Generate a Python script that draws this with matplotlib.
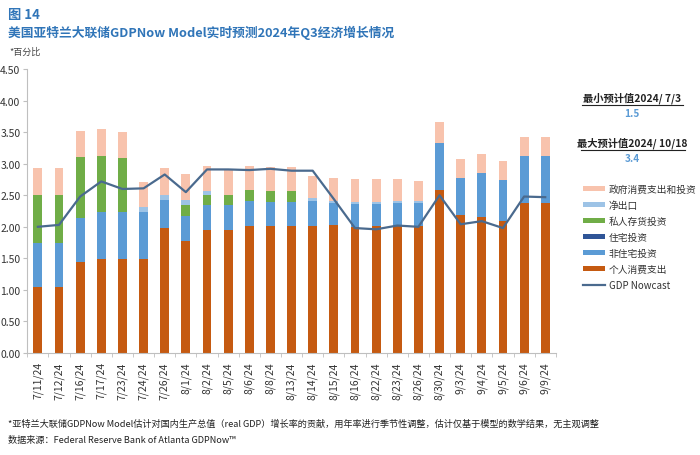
import matplotlib
matplotlib.use("Agg")
import matplotlib.pyplot as plt
import numpy as np
from matplotlib.lines import Line2D

plt.rcParams['font.family'] = ['Noto Sans CJK SC', 'DejaVu Sans']

dates = ["7/11/24", "7/12/24", "7/16/24", "7/17/24", "7/23/24", "7/24/24", "7/26/24",
         "8/1/24", "8/2/24", "8/5/24", "8/6/24", "8/8/24", "8/13/24", "8/14/24", "8/15/24",
         "8/16/24", "8/22/24", "8/23/24", "8/26/24", "8/30/24", "9/3/24", "9/4/24",
         "9/5/24", "9/6/24", "9/9/24"]

personal = [1.05, 1.05, 1.44, 1.49, 1.49, 1.49, 1.98, 1.77, 1.95, 1.95, 2.01, 2.02, 2.01,
            2.02, 2.03, 1.99, 2.02, 2.02, 2.01, 2.59, 2.19, 2.16, 2.09, 2.38, 2.37]
nonres = [0.70, 0.70, 0.70, 0.74, 0.74, 0.74, 0.45, 0.40, 0.40, 0.40, 0.40, 0.38, 0.39,
          0.39, 0.34, 0.37, 0.34, 0.36, 0.37, 0.74, 0.58, 0.70, 0.66, 0.75, 0.76]
residential = [0.0] * 25
inventory = [0.76, 0.75, 0.97, 0.90, 0.86, 0.0, 0.0, 0.18, 0.16, 0.16, 0.18, 0.17, 0.17,
             0.0, 0.0, 0.0, 0.0, 0.0, 0.0, 0.0, 0.0, 0.0, 0.0, 0.0, 0.0]
net_exports = [0.0, 0.0, 0.0, 0.0, 0.0, 0.08, 0.07, 0.07, 0.06, 0.0, 0.0, 0.0, 0.0,
               0.05, 0.04, 0.04, 0.04, 0.03, 0.03, 0.0, 0.0, 0.0, 0.0, 0.0, 0.0]
government = [0.42, 0.43, 0.41, 0.42, 0.42, 0.40, 0.43, 0.41, 0.40, 0.39, 0.37, 0.38, 0.38,
              0.35, 0.36, 0.36, 0.36, 0.35, 0.32, 0.34, 0.30, 0.29, 0.29, 0.29, 0.29]
nowcast = [2.00, 2.03, 2.48, 2.72, 2.60, 2.61, 2.83, 2.55, 2.91, 2.91, 2.90, 2.92, 2.89,
           2.89, 2.44, 1.98, 1.96, 2.02, 2.00, 2.50, 2.04, 2.09, 1.98, 2.48, 2.47]

series = [
    ("个人消费支出", personal, "#C55A11"),
    ("非住宅投资", nonres, "#5B9BD5"),
    ("住宅投资", residential, "#2F5597"),
    ("私人存货投资", inventory, "#70AD47"),
    ("净出口", net_exports, "#9DC3E6"),
    ("政府消费支出和投资", government, "#F8C3AD"),
]

fig = plt.figure(figsize=(7.0, 4.56), dpi=100)
ax = fig.add_axes([0.039, 0.224, 0.755, 0.622])

x = np.arange(len(dates))
bottom = np.zeros(len(dates))
handles = {}
for name, vals, col in series:
    v = np.array(vals)
    b = ax.bar(x, v, 0.42, bottom=bottom, color=col, label=name, linewidth=0)
    handles[name] = b
    bottom += v
ln, = ax.plot(x, nowcast, color="#4A6A8E", lw=1.6, label="GDP Nowcast")

ax.set_xlim(-0.5, len(dates) - 0.5)
ax.set_ylim(0, 4.5)
ax.set_yticks(np.arange(0, 4.51, 0.5))
ax.set_yticklabels([f"{t:.2f}" for t in np.arange(0, 4.51, 0.5)], fontsize=7.5, color="#333333")
ax.set_xticks(x)
ax.set_xticklabels(dates, rotation=90, fontsize=7.5, color="#333333")
ax.tick_params(axis='x', length=0, pad=6)
ax.tick_params(axis='y', length=3, color="#BFBFBF", pad=2)
ax.set_xticks(np.arange(-0.5, len(dates), 1), minor=True)
ax.tick_params(axis='x', which='minor', length=3, color="#BFBFBF")
for s in ["top", "right"]:
    ax.spines[s].set_visible(False)
for s in ["left", "bottom"]:
    ax.spines[s].set_color("#BFBFBF")
    ax.spines[s].set_linewidth(0.8)

# Titles
blue = "#3075B8"
fig.text(0.012, 0.968, "图 14", fontsize=9.5, fontweight="bold", color=blue, va="center")
fig.text(0.012, 0.928, "美国亚特兰大联储GDPNow Model实时预测2024年Q3经济增长情况",
         fontsize=9.2, fontweight="bold", color=blue, va="center")
fig.text(0.014, 0.885, "*百分比", fontsize=6.5, color="#444444", va="center")

# Right annotations
def boldtext(xc, y, s):
    return fig.text(xc, y, s, fontsize=7.4, fontweight="bold", color="#222222",
                    ha="center", va="center")

boldtext(0.903, 0.785, "最小预计值2024/ 7/3")
fig.text(0.903, 0.749, "1.5", fontsize=7.2, color="#5B9BD5", ha="center", va="center", fontweight="bold")
boldtext(0.903, 0.686, "最大预计值2024/ 10/18")
fig.text(0.903, 0.652, "3.4", fontsize=7.2, color="#5B9BD5", ha="center", va="center", fontweight="bold")
fig.add_artist(Line2D([0.831, 0.975], [0.768, 0.768], color="#222222", lw=0.8))
fig.add_artist(Line2D([0.830, 0.978], [0.669, 0.669], color="#222222", lw=0.8))

order = ["政府消费支出和投资", "净出口", "私人存货投资", "住宅投资", "非住宅投资", "个人消费支出"]
leg_h = [handles[n] for n in order] + [ln]
leg_l = order + ["GDP Nowcast"]
fig.legend(leg_h, leg_l, loc="upper left", bbox_to_anchor=(0.828, 0.603), frameon=False,
           fontsize=7, handlelength=2.2, handleheight=0.45, labelspacing=0.62,
           handletextpad=0.4, borderaxespad=0, labelcolor="#333333")

fig.text(0.012, 0.07, "*亚特兰大联储GDPNow Model估计对国内生产总值（real GDP）增长率的贡献，用年率进行季节性调整，估计仅基于模型的数学结果，无主观调整",
         fontsize=6.6, color="#222222", va="center")
fig.text(0.012, 0.035, "数据来源：Federal Reserve Bank of Atlanta GDPNow™",
         fontsize=6.6, color="#222222", va="center")

fig.savefig("out.png", dpi=100)
